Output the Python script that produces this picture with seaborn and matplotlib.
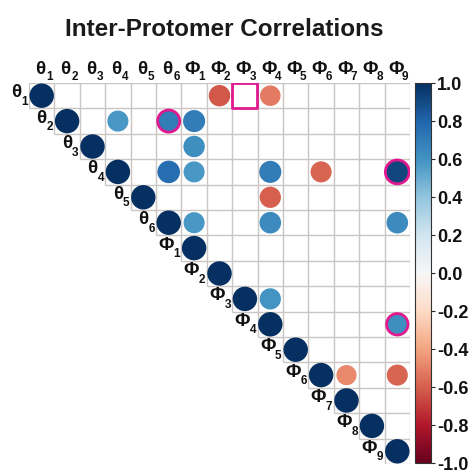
import numpy as np
import pandas as pd
import matplotlib
matplotlib.use("Agg")
import matplotlib.pyplot as plt
import seaborn as sns

# ---------------- data ----------------
label_base = ["θ", "θ", "θ", "θ", "θ", "θ",
              "Φ", "Φ", "Φ", "Φ", "Φ", "Φ", "Φ", "Φ", "Φ"]
label_sub = ["1", "2", "3", "4", "5", "6",
             "1", "2", "3", "4", "5", "6", "7", "8", "9"]

# off-diagonal correlations (row label index, column label index, value)
pair_row = [0, 0, 1, 1, 1, 2, 3, 3, 3, 3, 3, 4, 5, 5, 5, 8, 9, 11, 11]
pair_col = [7, 9, 3, 5, 6, 6, 5, 6, 9, 11, 14, 9, 6, 9, 14, 9, 14, 12, 14]
pair_val = [-0.62, -0.52, 0.58, 0.70, 0.70, 0.62, 0.76, 0.58, 0.70, -0.58,
            0.92, -0.60, 0.58, 0.64, 0.64, 0.60, 0.62, -0.48, -0.58]
diag_val = [1.0] * 15

# highlighted cells
ring_row = [1, 3, 9]
ring_col = [5, 14, 14]
box_row = [0]
box_col = [8]

title = "Inter-Protomer Correlations"
cbar_ticks = [-1.0, -0.8, -0.6, -0.4, -0.2, 0.0, 0.2, 0.4, 0.6, 0.8, 1.0]

# ---------------- frame ----------------
n = len(label_base)
df = pd.DataFrame({
    "row": list(range(n)) + pair_row,
    "col": list(range(n)) + pair_col,
    "value": diag_val + pair_val,
})
df["mag"] = df["value"].abs()

sns.set_theme(style="white")
plt.rcParams["font.family"] = ["Liberation Sans", "DejaVu Sans"]

fig = plt.figure(figsize=(4.69, 4.74), dpi=100)
ax = fig.add_axes([29 / 469, 10 / 474, 381 / 469, 381 / 474])

# grid of the upper triangle
grid_c = "#cbc6c2"
for k in range(n + 1):
    b = k - 0.5
    ax.hlines(b, max(k - 1, 0) - 0.5, n - 0.5, color=grid_c, lw=1.0, zorder=1)
    ax.vlines(b, -0.5, min(k, n - 1) + 0.5, color=grid_c, lw=1.0, zorder=1)

size_rng = (120, 310)
sns.scatterplot(data=df, x="col", y="row", hue="value", palette="RdBu",
                hue_norm=(-1, 1), size="mag", sizes=size_rng, size_norm=(0, 1),
                linewidth=0, legend=False, ax=ax, zorder=3)

# magenta rings around highlighted circles
ring_df = df.merge(pd.DataFrame({"row": ring_row, "col": ring_col}), on=["row", "col"])
sns.scatterplot(data=ring_df, x="col", y="row", size="mag", sizes=size_rng,
                size_norm=(0, 1), facecolor="none", edgecolor="#e0198f",
                linewidth=2.0, legend=False, ax=ax, zorder=4)

# magenta empty box
box_df = pd.DataFrame({"row": box_row, "col": box_col})
sns.scatterplot(data=box_df, x="col", y="row", marker="s", s=320,
                facecolor="none", edgecolor="#e0198f", linewidth=2.0,
                legend=False, ax=ax, zorder=4)

ax.set_xlim(-0.5, n - 0.5)
ax.set_ylim(n - 0.5, -0.5)
ax.set_aspect("auto")
for s in ax.spines.values():
    s.set_visible(False)
ax.set_xticks([])
ax.set_yticks([])
ax.set_xlabel("")
ax.set_ylabel("")

# labels: base glyph + separate subscript
lab_col = "#111111"
for i in range(n):
    # column labels on top
    ax.text(i - 0.06, -1.05, label_base[i], ha="center", va="center",
            fontsize=13.5, fontweight="bold", color=lab_col, clip_on=False)
    ax.text(i + 0.30, -0.74, label_sub[i], ha="center", va="center",
            fontsize=8.5, fontweight="bold", color=lab_col, clip_on=False)
    # row labels beside the diagonal
    ax.text(i - 0.80, i - 0.12, label_base[i], ha="right", va="center",
            fontsize=13.5, fontweight="bold", color=lab_col, clip_on=False)
    ax.text(i - 0.68, i + 0.24, label_sub[i], ha="center", va="center",
            fontsize=8.5, fontweight="bold", color=lab_col, clip_on=False)

fig.text(224 / 469, 1 - 30 / 474, title, ha="center", va="center",
         fontsize=17.5, fontweight="bold", color="#1a1a1a")

# colorbar
cax = fig.add_axes([415 / 469, 11 / 474, 16 / 469, 380 / 474])
sm = matplotlib.cm.ScalarMappable(norm=matplotlib.colors.Normalize(-1, 1),
                                  cmap="RdBu")
cb = fig.colorbar(sm, cax=cax, ticks=cbar_ticks)
cb.ax.set_yticklabels([f"{t:.1f}" for t in cbar_ticks], fontweight="bold",
                      fontsize=13, color=lab_col)
cb.ax.tick_params(length=3, width=0.8, pad=1.5, right=True, direction="out")
cb.outline.set_linewidth(0.8)
cb.outline.set_edgecolor("#333333")

fig.savefig("out.png", dpi=100)
